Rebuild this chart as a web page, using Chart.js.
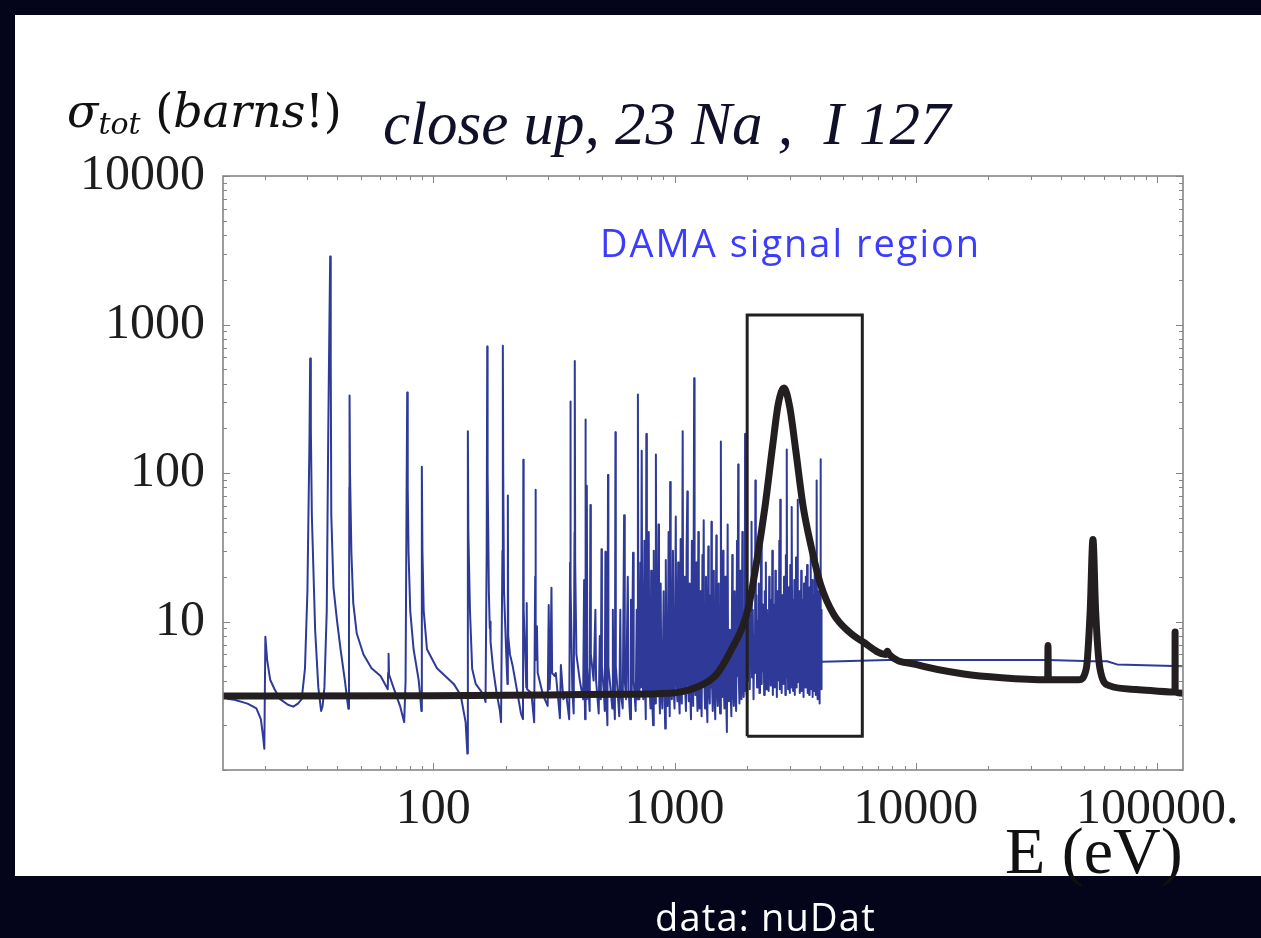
<!DOCTYPE html>
<html>
<head>
<meta charset="utf-8">
<script src="https://cdn.jsdelivr.net/npm/chart.js@4.4.1/dist/chart.umd.min.js"></script>
<style>
  body { margin: 0; background: #04041a; width: 1261px; height: 938px; overflow: hidden; position: relative; }
  #panel { position: absolute; left: 15px; top: 15px; width: 1246px; height: 861px; background: #fff; }
  #chart { position: absolute; left: 0; top: 0; }
  .txt { position: absolute; white-space: pre; line-height: 1; }
  #ylab { left: 67px; top: 84px; font: 46px 'DejaVu Serif'; color: #111; }
  #ylab sub { font-size: 30px; font-style: italic; vertical-align: -7px; }
  #title { left: 383px; top: 89px; font: italic 61px 'Liberation Serif'; color: #10102a; }
  #dama { left: 600px; top: 216px; font: 38px 'Open Sans'; letter-spacing: 2px; color: #3c3cff; }
  #xlab { left: 1005px; top: 813px; font: 66px 'Liberation Serif'; color: #111; }
  #src { left: 655px; top: 890px; font: 38px 'Open Sans'; letter-spacing: 1.2px; color: #fff; }
</style>
</head>
<body>
<div id="panel"></div>
<canvas id="chart" width="1261" height="938"></canvas>
<div class="txt" id="ylab"><i>σ</i><sub>tot</sub> (<i>barns</i>!)</div>
<div class="txt" id="title">close up, 23 Na ,  I 127</div>
<div class="txt" id="dama">DAMA signal region</div>
<div class="txt" id="xlab">E (eV)</div>
<div class="txt" id="src">data: nuDat</div>
<script>
// 축 눈금
const xMajorTicks = [100, 1000, 10000, 100000];
const xTickLabels = ['100', '1000', '10000', '100000.'];
const yMajorTicks = [10, 100, 1000, 10000];
const yTickLabels = ['10', '100', '1000', '10000'];
const minorSteps = [2, 3, 4, 5, 6, 7, 8, 9];
const xRange = [13.45, 128000];
const yRange = [1, 10000];

// 23Na 전체 단면적 [E (eV), sigma (barns)]
const sodium23 = [
  [13.4, 3.15], [100, 3.16], [300, 3.2], [600, 3.24], [951, 3.29], [1228, 3.6], [1472, 4.3],
  [1705, 6.3], [2009, 11.8], [2204, 27], [2370, 59], [2551, 153], [2693, 294], [2843, 374],
  [3004, 277], [3176, 144], [3415, 59], [3673, 32.6], [4024, 17.9], [4576, 11.1], [5295, 8.5],
  [6032, 7.3], [7500, 6.0], [7620, 6.3], [7750, 6.0], [10000, 5.14], [15800, 4.43], [22700, 4.18],
  [35200, 4.05], [35300, 6.9], [35400, 4.05], [47300, 4.05], [50900, 4.85], [52800, 11.8],
  [54200, 35.6], [55600, 11.8], [57900, 4.85], [63300, 3.7], [81800, 3.49], [118600, 3.35],
  [118700, 8.5], [118800, 3.35], [129000, 3.29]
];

// 127I 전체 단면적 [E (eV), sigma (barns)]
const iodine127 = [
  [13.4, 3.05], [15, 2.97], [17, 2.8], [18.5, 2.6], [19.3, 2.2], [19.7, 1.7], [19.95, 1.39], [20.15, 7.9],
  [20.5, 5.5], [21.1, 4.05], [22, 3.5], [23.2, 3.0], [25, 2.75], [26.3, 2.67], [27.5, 2.8], [28.5, 3.0],
  [29.4, 4.8], [30.1, 15.9], [30.7, 172], [30.9, 591], [31.1, 200], [31.4, 52], [32.4, 8.8], [33.4, 3.6],
  [34.3, 2.5], [34.8, 2.7], [35.4, 3.6], [36.2, 11.8], [36.7, 172], [37.1, 900], [37.4, 2865], [37.6, 600],
  [37.8, 52], [38.6, 16.9], [39.9, 10.2], [41.3, 6.5], [43, 4.05], [44.2, 2.8], [44.5, 2.59], [44.75, 8],
  [44.9, 80], [45, 332], [45.2, 100], [45.8, 29], [46.6, 13.4], [48.2, 8.3], [51.4, 6.0], [55.5, 4.85],
  [60.5, 4.3], [64.8, 3.5], [65, 4.5], [65.3, 6.07], [65.6, 4.4], [68.4, 3.6], [73, 2.67], [75.8, 2.1],
  [76.8, 4], [77.5, 60], [78, 348], [78.4, 80], [79, 29], [80.3, 11.8], [82.9, 6.5], [87, 4.05],
  [88.4, 3.1], [89.3, 2.5], [89.6, 20], [89.8, 110], [90.2, 30], [91.3, 11.8], [94.2, 6.5], [103.6, 4.85],
  [121.6, 3.8], [129.9, 3.2], [136.2, 2.1], [138.5, 1.29], [139, 40], [139.3, 191], [139.8, 40], [142, 11.8],
  [145, 4.8], [150, 3.8], [162, 3.2], [164.7, 2.87], [166.5, 30], [167.4, 711], [168, 100], [170, 15.9],
  [171.5, 9], [172, 10], [172.8, 7.3], [177, 4.85], [183, 3.3], [189, 2.5], [191, 2.1], [193.5, 30],
  [194.3, 719], [195, 100], [196.5, 15.9], [200.9, 5.8], [203, 3.8], [203.8, 70.6], [204.5, 8], [208, 6],
  [213, 5.1], [222, 3.5], [231, 2.4], [235.5, 2.2], [236.2, 123], [237, 12], [241, 5.5], [243, 3.6],
  [244, 13.3], [245, 3.5], [255, 3.3], [262, 2.1], [264.5, 20], [265, 77], [266.5, 5.5], [269, 9.3],
  [271, 4.5], [285, 3.2], [298, 2.7], [301, 12.9], [303.5, 3.5], [306, 4.6], [309, 16.9], [311, 4.5],
  [318, 4.3], [322, 4.5], [335, 2.23], [338, 5.1], [346, 3.0], [356, 3.2], [366, 2.2], [369, 25],
  [370, 303], [371.5, 18], [377, 3.5], [382, 2.4], [385, 40], [386, 567], [387.5, 25], [392, 6],
  [405, 4.0], [418, 3.0], [422, 19], [424, 3.5], [426, 2.2], [427, 229], [429, 10], [431, 3.0],
  [433, 82], [435, 5], [445, 2.5], [448, 61], [450, 6], [462, 4], [470, 12], [473, 4], [485, 2.4],
  [490, 8], [495, 3], [498, 30.7], [500, 5], [510, 3.2], [514, 2.5], [517, 29.5], [519, 4], [527, 2.0],
  [530, 97], [532, 5], [545, 3.3], [552, 2.6], [555, 12], [558, 3.5], [566, 2.2], [569, 188], [571, 5],
  [580, 3.5], [590, 2.3], [596, 12], [600, 3.2], [610, 2.6], [618, 52], [622, 4], [630, 3], [640, 20],
  [645, 3.5], [655, 2.2], [660, 14], [665, 3.4], [673, 29], [677, 4], [690, 2.5], [697, 12], [700, 3],
  [705, 338], [708, 8], [715, 3], [722, 25], [726, 3.6], [731, 141], [735, 6], [742, 3], [750, 35],
  [755, 3.8], [760, 2.2], [764, 183], [768, 6], [775, 3.2], [782, 40], [786, 4], [795, 2.6], [800, 22],
  [805, 3.4], [815, 2.0], [820, 30], [826, 4], [832, 2.8], [837, 133], [842, 5], [850, 3.2], [858, 45],
  [862, 4], [870, 2.4], [876, 18], [882, 3.6], [890, 2.6], [901, 16], [906, 4], [915, 1.9], [920, 26],
  [926, 3.5], [935, 2.7], [945, 40], [950, 4], [955, 2.3], [959, 87], [964, 5], [975, 3], [985, 30],
  [990, 3.8], [1000, 2.6], [1012, 51], [1017, 4.2], [1028, 2.9], [1035, 25], [1040, 3.5], [1050, 2.4],
  [1060, 36], [1065, 4], [1072, 2.8], [1081, 191], [1086, 5], [1095, 3.3], [1102, 20], [1106, 3.6],
  [1115, 2.5], [1122, 30], [1130, 75], [1135, 4.2], [1145, 2.9], [1155, 18], [1160, 3.6], [1170, 2.2],
  [1180, 35], [1185, 4.1], [1195, 2.7], [1206, 434], [1211, 6], [1220, 3.2], [1230, 25], [1236, 3.9],
  [1245, 2.5], [1255, 40], [1261, 4], [1270, 2.6], [1280, 16], [1286, 3.5], [1295, 2.3], [1305, 28],
  [1310, 3.8], [1321, 48], [1327, 4.3], [1338, 2.6], [1350, 20], [1356, 3.6], [1368, 2.1], [1380, 32],
  [1386, 4], [1400, 2.8], [1410, 15], [1415, 3.6], [1422, 47], [1428, 4.2], [1440, 2.5], [1455, 22],
  [1461, 3.7], [1475, 2.2], [1490, 38], [1496, 4], [1510, 2.7], [1525, 18], [1531, 3.9], [1545, 2.4],
  [1556, 163], [1562, 5], [1575, 3.1], [1590, 30], [1596, 4.2], [1610, 2.6], [1625, 20], [1632, 3.8],
  [1648, 1.8], [1660, 45], [1667, 4.4], [1680, 2.9], [1695, 8.8], [1706, 3.5], [1720, 2.3], [1735, 28],
  [1742, 4.1], [1760, 2.7], [1775, 16], [1782, 4], [1800, 2.5], [1815, 35], [1822, 4.3], [1836, 114],
  [1843, 4.6], [1858, 2.8], [1872, 22], [1880, 4.2], [1895, 3.0], [1910, 40], [1918, 4.5], [1935, 3.1],
  [1948, 12], [1955, 3.4], [1960, 183], [1975, 6], [1990, 3.2], [2005, 9], [2020, 4], [2035, 14],
  [2050, 3.5], [2065, 11], [2078, 5], [2085, 47], [2095, 4.2], [2110, 12], [2125, 3.0], [2140, 8],
  [2155, 4.5], [2163, 89], [2172, 5], [2185, 15], [2198, 3.6], [2210, 10], [2222, 4.4], [2235, 18],
  [2248, 3.3], [2260, 9], [2272, 5], [2285, 41], [2297, 3.8], [2310, 13], [2325, 4.6], [2340, 10],
  [2352, 3.2], [2365, 16], [2378, 4.8], [2390, 25], [2402, 3.5], [2415, 12], [2428, 5.2], [2440, 9],
  [2455, 3.4], [2468, 20], [2480, 4.6], [2493, 11], [2505, 3.7], [2518, 14], [2530, 5], [2542, 30],
  [2555, 3.2], [2568, 10], [2580, 4.8], [2592, 13], [2605, 3.6], [2618, 22], [2630, 4.4], [2642, 9],
  [2655, 3.1], [2668, 16], [2680, 5.2], [2692, 11], [2705, 4], [2718, 35], [2730, 3.5], [2743, 66],
  [2755, 4.6], [2768, 12], [2780, 3.3], [2793, 15], [2805, 5], [2818, 9], [2830, 3.8], [2843, 20],
  [2855, 4.4], [2868, 13], [2880, 3.2], [2893, 28], [2905, 5], [2918, 144], [2930, 4.2], [2942, 11],
  [2955, 3.5], [2968, 17], [2980, 4.8], [2993, 10], [3005, 3.3], [3018, 24], [3030, 4.6], [3043, 12],
  [3055, 3.6], [3062, 59], [3075, 5], [3088, 14], [3100, 3.4], [3113, 9], [3125, 4.7], [3138, 19],
  [3150, 3.2], [3163, 11], [3175, 4.5], [3188, 27], [3200, 3.6], [3213, 13], [3225, 5], [3235, 66],
  [3248, 3.9], [3262, 10], [3275, 4.2], [3290, 16], [3305, 3.3], [3320, 12], [3335, 4.8], [3350, 22],
  [3365, 3.4], [3380, 9], [3395, 4.6], [3410, 14], [3425, 3.1], [3440, 18], [3455, 4.4], [3470, 11],
  [3485, 3.6], [3500, 20], [3515, 4.9], [3530, 10], [3543, 24], [3556, 3.3], [3570, 13], [3585, 4.6],
  [3600, 9], [3615, 3.2], [3630, 17], [3645, 4.8], [3660, 28], [3675, 3.5], [3690, 12], [3705, 4.4],
  [3720, 19], [3735, 3.1], [3750, 10], [3765, 4.6], [3780, 15], [3795, 3.4], [3810, 24], [3825, 4.8],
  [3840, 11], [3855, 3.2], [3870, 14], [3881, 89], [3895, 4], [3910, 12], [3925, 3.0], [3940, 16],
  [3955, 4.5], [3970, 10], [3985, 2.8], [4000, 18], [4015, 4.4], [4027, 124], [4040, 3.6], [4055, 12],
  [4065, 3.5], [4068, 5.36], [4500, 5.38], [7620, 5.5], [35300, 5.5], [54000, 5.4], [62000, 5.4],
  [68200, 5.14], [129000, 4.99]
];

// DAMA 신호 영역 상자 [E (eV), sigma (barns)]
const damaBox = [[2000, 1.69], [2000, 1160], [6000, 1160], [6000, 1.69], [2000, 1.69]];

const toXY = pts => pts.map(p => ({ x: p[0], y: p[1] }));

function logTicks(range, majors) {
  const vals = [];
  for (let d = 1; d <= range[1]; d *= 10) {
    minorSteps.forEach(m => { const v = m * d; if (v >= range[0] && v <= range[1]) vals.push(v); });
    if (d >= range[0] && d <= range[1]) vals.push(d);
  }
  majors.forEach(v => { if (!vals.includes(v)) vals.push(v); });
  return vals.sort((a, b) => a - b).map(v => ({ value: v }));
}

// 테두리와 안쪽 눈금 (Mathematica 스타일)
const frameTicks = {
  id: 'frameTicks',
  afterDatasetsDraw(chart) {
    const { ctx, chartArea: a, scales: { x, y } } = chart;
    ctx.save();
    ctx.strokeStyle = '#858585';
    ctx.lineWidth = 1;
    const seg = (x1, y1, x2, y2) => { ctx.beginPath(); ctx.moveTo(x1, y1); ctx.lineTo(x2, y2); ctx.stroke(); };
    x.ticks.forEach(t => {
      const px = Math.round(x.getPixelForValue(t.value)) + 0.5;
      const len = xMajorTicks.includes(t.value) ? 7 : 4;
      seg(px, a.bottom, px, a.bottom - len);
      seg(px, a.top, px, a.top + len);
    });
    y.ticks.forEach(t => {
      const py = Math.round(y.getPixelForValue(t.value)) + 0.5;
      const len = yMajorTicks.includes(t.value) ? 7 : 4;
      seg(a.left, py, a.left + len, py);
      seg(a.right, py, a.right - len, py);
    });
    ctx.lineWidth = 1.6;
    ctx.strokeRect(a.left, a.top, a.right - a.left, a.bottom - a.top);
    ctx.restore();
  }
};

const ctx = document.getElementById('chart').getContext('2d');
const chart = new Chart(ctx, {
  type: 'line',
  data: {
    datasets: [
      {
        label: 'DAMA signal region',
        data: toXY(damaBox),
        borderColor: '#231f20',
        borderWidth: 3,
        borderJoinStyle: 'miter',
        pointRadius: 0,
        clip: 0
      },
      {
        label: '23Na',
        data: toXY(sodium23),
        borderColor: '#231f20',
        borderWidth: 7,
        borderCapStyle: 'round',
        borderJoinStyle: 'round',
        cubicInterpolationMode: 'monotone',
        pointRadius: 0,
        clip: 0
      },
      {
        label: '127I',
        data: toXY(iodine127),
        borderColor: '#2f3a98',
        borderWidth: 2,
        borderJoinStyle: 'round',
        tension: 0,
        pointRadius: 0,
        clip: 0
      }
    ]
  },
  options: {
    responsive: false,
    animation: false,
    devicePixelRatio: 1,
    layout: { padding: { left: 0, right: 78, top: 176, bottom: 108 } },
    plugins: { legend: { display: false }, tooltip: { enabled: false } },
    scales: {
      x: {
        type: 'logarithmic',
        min: xRange[0],
        max: xRange[1],
        grid: { display: false, drawTicks: false },
        border: { display: false },
        afterBuildTicks: s => { s.ticks = logTicks(xRange, xMajorTicks); },
        afterFit: s => { s.height = 60; },
        ticks: {
          autoSkip: false, maxRotation: 0, minRotation: 0, padding: 10,
          color: '#1d1d1d',
          font: { family: 'Liberation Serif', size: 50 },
          callback: v => { const i = xMajorTicks.indexOf(v); return i >= 0 ? xTickLabels[i] : ''; }
        }
      },
      y: {
        type: 'logarithmic',
        min: yRange[0],
        max: yRange[1],
        grid: { display: false, drawTicks: false },
        border: { display: false },
        afterBuildTicks: s => { s.ticks = logTicks(yRange, yMajorTicks); },
        afterFit: s => { s.width = 223; },
        ticks: {
          autoSkip: false, padding: 18,
          color: '#1d1d1d',
          font: { family: 'Liberation Serif', size: 50 },
          callback: v => { const i = yMajorTicks.indexOf(v); return i >= 0 ? yTickLabels[i] : ''; }
        }
      }
    }
  },
  plugins: [frameTicks]
});
</script>
</body>
</html>
